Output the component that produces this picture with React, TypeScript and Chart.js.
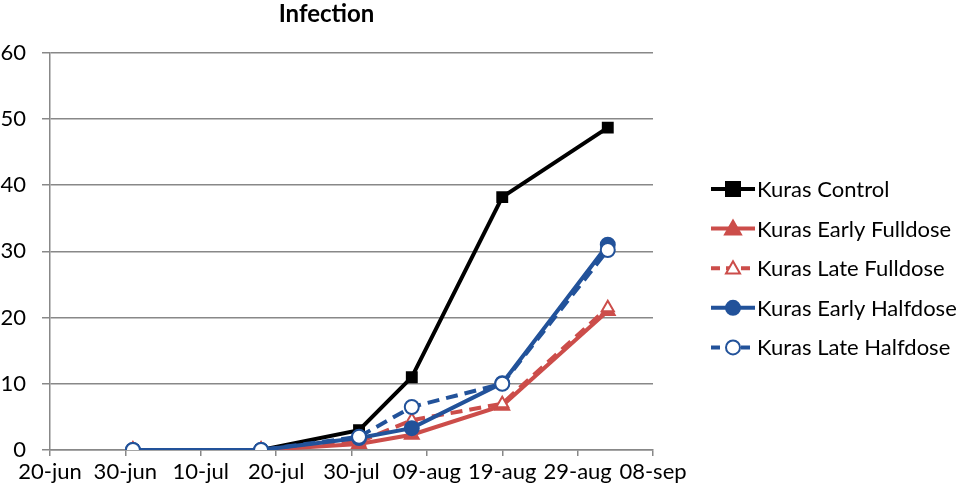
import React, { useEffect, useRef } from "react";
import { Chart, registerables } from "chart.js";

Chart.register(...registerables);

// Days since 20-jun for each observation
const dayOffsets = [11, 28, 41, 48, 60, 74];
const xTickLabels = ["20-jun", "30-jun", "10-jul", "20-jul", "30-jul", "09-aug", "19-aug", "29-aug", "08-sep"];
const yTicks = [0, 10, 20, 30, 40, 50, 60];

const seriesNames = [
  "Kuras Control",
  "Kuras Early Fulldose",
  "Kuras Late Fulldose",
  "Kuras Early Halfdose",
  "Kuras Late Halfdose",
];
const controlValues = [0, 0, 3.0, 11.0, 38.2, 48.7];
const earlyFullValues = [0, 0, 0.9, 2.3, 6.7, 21.0];
const lateFullValues = [0, 0, 1.2, 4.5, 7.0, 21.5];
const earlyHalfValues = [0, 0, 1.8, 3.3, 10.1, 31.0];
const lateHalfValues = [0, 0, 2.0, 6.5, 10.0, 30.2];

const BLACK = "#000000";
const RED = "#CC4D4A";
const BLUE = "#22529A";
const FONT = "Lato, 'Open Sans', sans-serif";

type Style = { color: string; dash: number[]; point: string; filled: boolean; radius: number };
const styles: Style[] = [
  { color: BLACK, dash: [], point: "rect", filled: true, radius: 7 },
  { color: RED, dash: [], point: "triangle", filled: true, radius: 8 },
  { color: RED, dash: [12, 7], point: "triangle", filled: false, radius: 7 },
  { color: BLUE, dash: [], point: "circle", filled: true, radius: 7 },
  { color: BLUE, dash: [12, 7], point: "circle", filled: false, radius: 7 },
];
const allValues = [controlValues, earlyFullValues, lateFullValues, earlyHalfValues, lateHalfValues];

const legendPlugin = {
  id: "customLegend",
  afterDraw(chart: any) {
    const ctx = chart.ctx;
    const x0 = 711;
    const y0 = 189;
    const step = 39.6;
    ctx.save();
    seriesNames.forEach((name, i) => {
      const s = styles[i];
      const y = y0 + i * step;
      ctx.strokeStyle = s.color;
      ctx.lineWidth = 4;
      ctx.setLineDash(s.dash.length ? [9, 6] : []);
      ctx.beginPath();
      ctx.moveTo(x0, y);
      ctx.lineTo(x0 + 44, y);
      ctx.stroke();
      ctx.setLineDash([]);
      const cx = x0 + 22;
      ctx.fillStyle = s.filled ? s.color : "#ffffff";
      ctx.lineWidth = 2;
      ctx.beginPath();
      if (s.point === "rect") {
        ctx.rect(cx - 7, y - 7, 14, 14);
      } else if (s.point === "triangle") {
        const r = s.filled ? 8 : 7;
        ctx.moveTo(cx, y - r);
        ctx.lineTo(cx + r, y + r * 0.75);
        ctx.lineTo(cx - r, y + r * 0.75);
        ctx.closePath();
      } else {
        ctx.arc(cx, y, 7, 0, Math.PI * 2);
      }
      ctx.fill();
      ctx.stroke();
      ctx.fillStyle = "#000";
      ctx.font = `22px ${FONT}`;
      ctx.textBaseline = "middle";
      ctx.textAlign = "left";
      ctx.fillText(name, x0 + 46, y + 1);
    });
    ctx.restore();
  },
};

export default function App() {
  const canvasRef = useRef<HTMLCanvasElement>(null);

  useEffect(() => {
    document.body.style.margin = "0";
    const canvas = canvasRef.current;
    if (!canvas) return;
    const datasets = seriesNames.map((name, i) => {
      const s = styles[i];
      return {
        label: name,
        data: dayOffsets.map((d, j) => ({ x: d, y: allValues[i][j] })),
        borderColor: s.color,
        backgroundColor: s.filled ? s.color : "#ffffff",
        borderWidth: 4,
        borderDash: s.dash,
        pointStyle: s.point,
        pointRadius: s.radius,
        pointBorderWidth: 2,
        pointBorderColor: s.color,
        pointBackgroundColor: s.filled ? s.color : "#ffffff",
        tension: 0,
        order: 5 - i,
      };
    });
    const chart = new Chart(canvas, {
      type: "line",
      data: { datasets },
      plugins: [legendPlugin],
      options: {
        animation: false,
        responsive: false,
        layout: { padding: { left: 0, right: 306, top: 0, bottom: 0 } },
        plugins: {
          legend: { display: false },
          tooltip: { enabled: false },
          title: {
            display: true,
            text: "Infection",
            color: "#000",
            font: { family: FONT, size: 24, weight: "bold" },
            padding: { top: 0, bottom: 24 },
          },
        },
        scales: {
          x: {
            type: "linear",
            min: 0,
            max: 80,
            afterBuildTicks(scale: any) {
              scale.ticks = xTickLabels.map((_, i) => ({ value: i * 10 }));
            },
            afterFit(scale: any) {
              scale.height = 43;
            },
            ticks: {
              callback: (v: any) => xTickLabels[Math.round(Number(v) / 10)] ?? "",
              color: "#000",
              font: { family: FONT, size: 22 },
              maxRotation: 0,
              autoSkip: false,
              padding: 3,
            },
            grid: { display: true, drawOnChartArea: false, color: "#888", tickLength: 6, lineWidth: 1.5 },
            border: { color: "#888", width: 1.5 },
          },
          y: {
            min: 0,
            max: 60,
            afterBuildTicks(scale: any) {
              scale.ticks = yTicks.map((v) => ({ value: v }));
            },
            afterFit(scale: any) {
              scale.width = 50;
            },
            ticks: {
              color: "#000",
              font: { family: FONT, size: 22 },
              padding: 16,
            },
            grid: { color: "#888", tickLength: 8, lineWidth: 1.5 },
            border: { color: "#888", width: 1.5 },
          },
        },
      },
    } as any);
    return () => chart.destroy();
  }, []);

  return (
    <div style={{ width: 959, height: 493, background: "#fff" }}>
      <canvas ref={canvasRef} width={959} height={493} style={{ width: 959, height: 493 }} />
    </div>
  );
}
